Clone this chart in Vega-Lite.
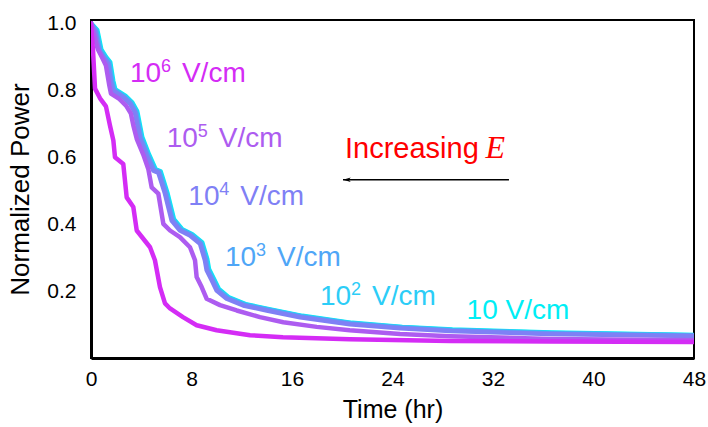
{
  "$schema": "https://vega.github.io/schema/vega-lite/v6.json",
  "width": 603,
  "height": 338,
  "autosize": "none",
  "padding": {"left": 91, "top": 20, "right": 14, "bottom": 69},
  "background": "white",
  "config": {
    "view": {"stroke": "black", "strokeWidth": 2},
    "axis": {"grid": false, "ticks": false, "labelFont": "Liberation Sans", "titleFont": "Liberation Sans", "labelColor": "black", "titleColor": "black", "domainColor": "black", "titleFontWeight": "normal"}
  },
  "datasets": {
    "curves": [
      {"E":"10","t":0,"v":1.0},{"E":"10","t":0.5,"v":0.98},{"E":"10","t":0.82,"v":0.922},{"E":"10","t":1.21,"v":0.899},{"E":"10","t":1.53,"v":0.884},{"E":"10","t":1.77,"v":0.828},{"E":"10","t":1.93,"v":0.803},{"E":"10","t":2.75,"v":0.783},{"E":"10","t":3.28,"v":0.764},{"E":"10","t":3.68,"v":0.737},{"E":"10","t":4.08,"v":0.66},{"E":"10","t":4.61,"v":0.609},{"E":"10","t":5.14,"v":0.564},{"E":"10","t":5.54,"v":0.558},{"E":"10","t":6.07,"v":0.495},{"E":"10","t":6.6,"v":0.415},{"E":"10","t":7.26,"v":0.385},{"E":"10","t":8.06,"v":0.37},{"E":"10","t":8.86,"v":0.345},{"E":"10","t":9.25,"v":0.296},{"E":"10","t":9.39,"v":0.266},{"E":"10","t":9.79,"v":0.236},{"E":"10","t":10.18,"v":0.206},{"E":"10","t":10.98,"v":0.181},{"E":"10","t":12.3,"v":0.161},{"E":"10","t":14.17,"v":0.146},{"E":"10","t":16.82,"v":0.126},{"E":"10","t":20.78,"v":0.105},{"E":"10","t":24.78,"v":0.093},{"E":"10","t":28.78,"v":0.085},{"E":"10","t":36.68,"v":0.076},{"E":"10","t":48,"v":0.069},
      {"E":"1e2","t":0,"v":1.0},{"E":"1e2","t":0.44,"v":0.979},{"E":"1e2","t":0.76,"v":0.921},{"E":"1e2","t":1.15,"v":0.898},{"E":"1e2","t":1.47,"v":0.883},{"E":"1e2","t":1.71,"v":0.827},{"E":"1e2","t":1.87,"v":0.802},{"E":"1e2","t":2.69,"v":0.782},{"E":"1e2","t":3.22,"v":0.763},{"E":"1e2","t":3.62,"v":0.736},{"E":"1e2","t":4.02,"v":0.659},{"E":"1e2","t":4.55,"v":0.608},{"E":"1e2","t":5.08,"v":0.563},{"E":"1e2","t":5.48,"v":0.557},{"E":"1e2","t":6.01,"v":0.494},{"E":"1e2","t":6.54,"v":0.414},{"E":"1e2","t":7.2,"v":0.384},{"E":"1e2","t":8.0,"v":0.369},{"E":"1e2","t":8.8,"v":0.344},{"E":"1e2","t":9.19,"v":0.295},{"E":"1e2","t":9.33,"v":0.265},{"E":"1e2","t":9.73,"v":0.235},{"E":"1e2","t":10.12,"v":0.205},{"E":"1e2","t":10.92,"v":0.18},{"E":"1e2","t":12.24,"v":0.16},{"E":"1e2","t":14.11,"v":0.145},{"E":"1e2","t":16.76,"v":0.125},{"E":"1e2","t":20.72,"v":0.104},{"E":"1e2","t":24.72,"v":0.092},{"E":"1e2","t":28.72,"v":0.084},{"E":"1e2","t":36.62,"v":0.075},{"E":"1e2","t":48,"v":0.068},
      {"E":"1e3","t":0,"v":1.0},{"E":"1e3","t":0.4,"v":0.978},{"E":"1e3","t":0.72,"v":0.92},{"E":"1e3","t":1.1,"v":0.897},{"E":"1e3","t":1.43,"v":0.882},{"E":"1e3","t":1.67,"v":0.826},{"E":"1e3","t":1.83,"v":0.801},{"E":"1e3","t":2.65,"v":0.781},{"E":"1e3","t":3.18,"v":0.762},{"E":"1e3","t":3.58,"v":0.735},{"E":"1e3","t":3.98,"v":0.658},{"E":"1e3","t":4.51,"v":0.607},{"E":"1e3","t":5.04,"v":0.562},{"E":"1e3","t":5.44,"v":0.556},{"E":"1e3","t":5.97,"v":0.493},{"E":"1e3","t":6.5,"v":0.413},{"E":"1e3","t":7.16,"v":0.383},{"E":"1e3","t":7.96,"v":0.368},{"E":"1e3","t":8.76,"v":0.343},{"E":"1e3","t":9.15,"v":0.294},{"E":"1e3","t":9.29,"v":0.264},{"E":"1e3","t":9.69,"v":0.234},{"E":"1e3","t":10.08,"v":0.204},{"E":"1e3","t":10.88,"v":0.179},{"E":"1e3","t":12.2,"v":0.159},{"E":"1e3","t":14.07,"v":0.144},{"E":"1e3","t":16.72,"v":0.124},{"E":"1e3","t":20.7,"v":0.103},{"E":"1e3","t":24.7,"v":0.091},{"E":"1e3","t":28.7,"v":0.083},{"E":"1e3","t":36.6,"v":0.074},{"E":"1e3","t":48,"v":0.067},
      {"E":"1e4","t":0,"v":1.0},{"E":"1e4","t":0.32,"v":0.978},{"E":"1e4","t":0.64,"v":0.918},{"E":"1e4","t":1.03,"v":0.895},{"E":"1e4","t":1.35,"v":0.88},{"E":"1e4","t":1.59,"v":0.823},{"E":"1e4","t":1.75,"v":0.799},{"E":"1e4","t":2.57,"v":0.779},{"E":"1e4","t":3.1,"v":0.76},{"E":"1e4","t":3.5,"v":0.733},{"E":"1e4","t":3.9,"v":0.656},{"E":"1e4","t":4.43,"v":0.605},{"E":"1e4","t":4.96,"v":0.56},{"E":"1e4","t":5.36,"v":0.554},{"E":"1e4","t":5.89,"v":0.491},{"E":"1e4","t":6.42,"v":0.411},{"E":"1e4","t":7.08,"v":0.381},{"E":"1e4","t":7.88,"v":0.366},{"E":"1e4","t":8.68,"v":0.341},{"E":"1e4","t":9.07,"v":0.292},{"E":"1e4","t":9.21,"v":0.262},{"E":"1e4","t":9.61,"v":0.232},{"E":"1e4","t":10.0,"v":0.202},{"E":"1e4","t":10.8,"v":0.177},{"E":"1e4","t":12.12,"v":0.157},{"E":"1e4","t":13.99,"v":0.142},{"E":"1e4","t":16.64,"v":0.122},{"E":"1e4","t":20.6,"v":0.101},{"E":"1e4","t":24.6,"v":0.089},{"E":"1e4","t":28.6,"v":0.081},{"E":"1e4","t":36.5,"v":0.072},{"E":"1e4","t":48,"v":0.066},
      {"E":"1e5","t":0,"v":1.0},{"E":"1e5","t":0.53,"v":0.924},{"E":"1e5","t":0.93,"v":0.894},{"E":"1e5","t":1.19,"v":0.874},{"E":"1e5","t":1.46,"v":0.814},{"E":"1e5","t":1.59,"v":0.79},{"E":"1e5","t":2.25,"v":0.774},{"E":"1e5","t":2.79,"v":0.754},{"E":"1e5","t":3.18,"v":0.73},{"E":"1e5","t":3.37,"v":0.695},{"E":"1e5","t":3.64,"v":0.655},{"E":"1e5","t":4.16,"v":0.608},{"E":"1e5","t":4.56,"v":0.565},{"E":"1e5","t":4.83,"v":0.51},{"E":"1e5","t":5.36,"v":0.491},{"E":"1e5","t":5.76,"v":0.401},{"E":"1e5","t":6.29,"v":0.381},{"E":"1e5","t":7.08,"v":0.361},{"E":"1e5","t":7.88,"v":0.331},{"E":"1e5","t":8.28,"v":0.292},{"E":"1e5","t":8.41,"v":0.242},{"E":"1e5","t":8.81,"v":0.212},{"E":"1e5","t":9.21,"v":0.177},{"E":"1e5","t":10.27,"v":0.158},{"E":"1e5","t":11.6,"v":0.142},{"E":"1e5","t":13.45,"v":0.122},{"E":"1e5","t":15.31,"v":0.107},{"E":"1e5","t":17.97,"v":0.093},{"E":"1e5","t":20.6,"v":0.083},{"E":"1e5","t":24.6,"v":0.072},{"E":"1e5","t":28.6,"v":0.065},{"E":"1e5","t":36.5,"v":0.057},{"E":"1e5","t":48,"v":0.053},
      {"E":"1e6","t":0,"v":1.0},{"E":"1e6","t":0.16,"v":0.919},{"E":"1e6","t":0.32,"v":0.805},{"E":"1e6","t":0.72,"v":0.776},{"E":"1e6","t":1.19,"v":0.752},{"E":"1e6","t":1.51,"v":0.695},{"E":"1e6","t":1.78,"v":0.65},{"E":"1e6","t":1.91,"v":0.6},{"E":"1e6","t":2.57,"v":0.58},{"E":"1e6","t":2.84,"v":0.48},{"E":"1e6","t":3.37,"v":0.451},{"E":"1e6","t":3.64,"v":0.381},{"E":"1e6","t":4.7,"v":0.331},{"E":"1e6","t":5.09,"v":0.292},{"E":"1e6","t":5.49,"v":0.212},{"E":"1e6","t":5.89,"v":0.163},{"E":"1e6","t":6.29,"v":0.148},{"E":"1e6","t":7.32,"v":0.122},{"E":"1e6","t":8.41,"v":0.098},{"E":"1e6","t":10.0,"v":0.083},{"E":"1e6","t":12.66,"v":0.068},{"E":"1e6","t":15.28,"v":0.062},{"E":"1e6","t":20.6,"v":0.056},{"E":"1e6","t":28.6,"v":0.051},{"E":"1e6","t":36.5,"v":0.049},{"E":"1e6","t":48,"v":0.048}
    ],
    "labels": [
      {"E":"1e6","base":"10","exp":"6","unit":"V/cm","t":3.1,"v":0.824},
      {"E":"1e5","base":"10","exp":"5","unit":"V/cm","t":6.03,"v":0.63},
      {"E":"1e4","base":"10","exp":"4","unit":"V/cm","t":7.75,"v":0.456},
      {"E":"1e3","base":"10","exp":"3","unit":"V/cm","t":10.67,"v":0.275},
      {"E":"1e2","base":"10","exp":"2","unit":"V/cm","t":18.23,"v":0.157},
      {"E":"10","base":"10 V/cm","exp":"","unit":"","t":29.9,"v":0.118}
    ],
    "xMajor": [{"t":8},{"t":16},{"t":24},{"t":32},{"t":40},{"t":48}],
    "xMinor": [{"t":4},{"t":12},{"t":20},{"t":28},{"t":36},{"t":44}],
    "yMajor": [{"v":0.2},{"v":0.4},{"v":0.6},{"v":0.8},{"v":1.0}],
    "yMinor": [{"v":0.1},{"v":0.3},{"v":0.5},{"v":0.7},{"v":0.9}],
    "arrow": [{"t":20.06,"t2":33.27,"v":0.5325}],
    "note": [{"t":20.22,"v":0.599,"txt":"Increasing"}],
    "noteE": [{"t":31.4,"v":0.599,"txt":"E"}]
  },
  "encoding": {
    "x": {"field":"t","type":"quantitative","title":"Time (hr)",
      "scale":{"domain":[0,48],"nice":false,"zero":false},
      "axis":{"values":[0,8,16,24,32,40,48],
        "labelFlush":false,"labelOverlap":false,
        "domainWidth":3,"labelFontSize":21,"labelPadding":10,"titleFontSize":25,"titlePadding":8}},
    "y": {"field":"v","type":"quantitative","title":"Normalized Power",
      "scale":{"domain":[0,1.01],"nice":false,"zero":false},
      "axis":{"values":[0.2,0.4,0.6,0.8,1.0],"format":".1f",
        "labelFlush":false,"labelOverlap":false,
        "domainWidth":3,"labelFontSize":21,"labelPadding":15,"titleFontSize":26,"titlePadding":13}}
  },
  "layer": [
    {"data":{"name":"curves"},
     "mark":{"type":"line","strokeWidth":4.5,"strokeJoin":"round","strokeCap":"round","clip":true},
     "encoding":{"color":{"field":"E","type":"nominal","legend":null,
       "scale":{"domain":["10","1e2","1e3","1e4","1e5","1e6"],"range":["#00eef5","#2ccdf7","#4fa6f7","#7f80f5","#ad5cf0","#d42cf5"]}}}},
    {"data":{"name":"xMajor"},
     "mark":{"type":"rule","color":"black","strokeWidth":3},
     "encoding":{"y":{"datum":0,"type":"quantitative"},"y2":{"datum":0.026}}},
    {"data":{"name":"xMinor"},
     "mark":{"type":"rule","color":"black","strokeWidth":2},
     "encoding":{"y":{"datum":0,"type":"quantitative"},"y2":{"datum":0.014}}},
    {"data":{"name":"yMajor"},
     "mark":{"type":"rule","color":"black","strokeWidth":3},
     "encoding":{"x":{"datum":0,"type":"quantitative"},"x2":{"datum":0.7}}},
    {"data":{"name":"yMinor"},
     "mark":{"type":"rule","color":"black","strokeWidth":2},
     "encoding":{"x":{"datum":0,"type":"quantitative"},"x2":{"datum":0.38}}},
    {"data":{"name":"labels"},
     "mark":{"type":"text","align":"left","baseline":"alphabetic","font":"Liberation Sans","fontSize":28},
     "encoding":{"text":{"field":"base"},"color":{"field":"E","type":"nominal","legend":null}}},
    {"data":{"name":"labels"},
     "mark":{"type":"text","align":"left","baseline":"alphabetic","font":"Liberation Sans","fontSize":18,"dx":31,"dy":-10},
     "encoding":{"text":{"field":"exp"},"color":{"field":"E","type":"nominal","legend":null}}},
    {"data":{"name":"labels"},
     "mark":{"type":"text","align":"left","baseline":"alphabetic","font":"Liberation Sans","fontSize":28,"dx":52},
     "encoding":{"text":{"field":"unit"},"color":{"field":"E","type":"nominal","legend":null}}},
    {"data":{"name":"arrow"},
     "mark":{"type":"rule","color":"black","strokeWidth":1.5},
     "encoding":{"x2":{"field":"t2"}}},
    {"data":{"name":"arrow"},
     "mark":{"type":"point","filled":true,"color":"black","opacity":1,"size":60,"shape":"M0,0 L2,-0.6 L1.5,0 L2,0.6 Z"},
     "encoding":{}},
    {"data":{"name":"note"},
     "mark":{"type":"text","align":"left","baseline":"alphabetic","font":"Liberation Sans","fontSize":29,"color":"#ff0000"},
     "encoding":{"text":{"field":"txt"}}},
    {"data":{"name":"noteE"},
     "mark":{"type":"text","align":"left","baseline":"alphabetic","font":"Liberation Serif","fontStyle":"italic","fontSize":32,"color":"#ff0000"},
     "encoding":{"text":{"field":"txt"}}}
  ]
}
